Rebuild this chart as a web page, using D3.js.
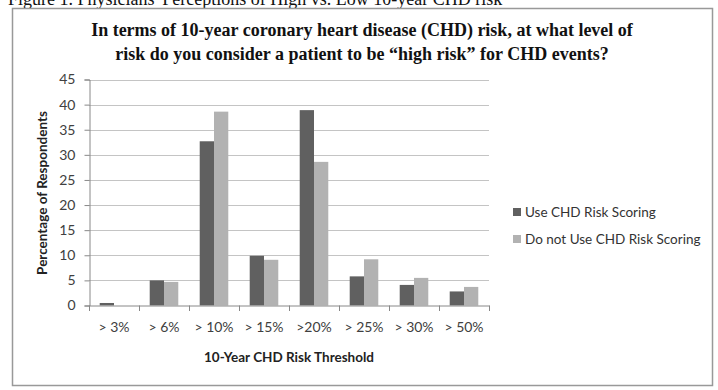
<!DOCTYPE html>
<html>
<head>
<meta charset="utf-8">
<script src="https://cdn.jsdelivr.net/npm/d3@7"></script>
<style>
  body { margin: 0; background: #fff; }
  svg { display: block; }
</style>
</head>
<body>
<svg id="chart" width="718" height="390"></svg>
<script>
var categories = ["> 3%", "> 6%", "> 10%", "> 15%", ">20%", "> 25%", "> 30%", "> 50%"];
var useScoring = [0.5, 5.0, 32.7, 9.9, 38.9, 5.8, 4.1, 2.8];
var noScoring = [0, 4.7, 38.6, 9.1, 28.6, 9.2, 5.5, 3.7];
var seriesNames = ["Use CHD Risk Scoring", "Do not Use CHD Risk Scoring"];
var seriesColors = ["#606060", "#b2b2b2"];
var yTicks = [0, 5, 10, 15, 20, 25, 30, 35, 40, 45];

var svg = d3.select("#chart");
var sans = "Lato, 'Open Sans', sans-serif";

// caption above the frame (cut at top, as in the source)
svg.append("text").attr("x", 8).attr("y", 5)
    .attr("font-family", "'Liberation Serif', serif").attr("font-size", 18)
    .attr("fill", "#111")
    .text("Figure 1. Physicians' Perceptions of High vs. Low 10-year CHD risk");

// frame
svg.append("rect").attr("x", 12.5).attr("y", 8.5).attr("width", 700).attr("height", 377)
    .attr("fill", "#fff").attr("stroke", "#999").attr("stroke-width", 1.5);

// title
var title = svg.append("text").attr("text-anchor", "middle")
    .attr("font-family", "'Liberation Serif', serif").attr("font-weight", "bold")
    .attr("font-size", 18).attr("fill", "#111");
title.append("tspan").attr("x", 362).attr("y", 36)
    .text("In terms of 10-year coronary heart disease (CHD) risk, at what level of");
title.append("tspan").attr("x", 362).attr("y", 60)
    .text("risk do you consider a patient to be \u201chigh risk\u201d for CHD events?");

var x = d3.scaleBand().domain(categories).range([89, 489]).paddingInner(0).paddingOuter(0);
var inner = d3.scaleBand().domain([0, 1]).range([0, x.bandwidth()]).paddingOuter(0.75).paddingInner(0);
var y = d3.scaleLinear().domain([0, 45]).range([305.5, 79.5]);

// gridlines
svg.append("g").selectAll("line").data(yTicks.slice(1)).enter().append("line")
    .attr("x1", 89).attr("x2", 489)
    .attr("y1", d => Math.round(y(d)) + 0.5).attr("y2", d => Math.round(y(d)) + 0.5)
    .attr("stroke", "#c4c4c4").attr("stroke-width", 1);

// bars
var groups = svg.append("g").selectAll("g").data(categories).enter().append("g")
    .attr("transform", d => "translate(" + x(d) + ",0)");
groups.selectAll("rect")
    .data((d, i) => [useScoring[i], noScoring[i]])
    .enter().append("rect")
    .attr("x", (d, i) => inner(i)).attr("width", inner.bandwidth())
    .attr("y", d => y(d)).attr("height", d => y(0) - y(d))
    .attr("fill", (d, i) => seriesColors[i]);

// y axis
var yAxis = svg.append("g").attr("transform", "translate(89.5,0)")
    .call(d3.axisLeft(y).tickValues(yTicks).tickSize(5).tickPadding(9));
yAxis.select(".domain").attr("stroke", "#888");
yAxis.selectAll(".tick line").attr("stroke", "#888");
yAxis.selectAll("text").attr("font-family", sans).attr("font-size", 14).attr("fill", "#404040");

// x axis
var xAxis = svg.append("g").attr("transform", "translate(0,305.5)")
    .call(d3.axisBottom(x).tickSize(0).tickPadding(17));
xAxis.select(".domain").attr("stroke", "#888");
xAxis.selectAll("text").attr("font-family", sans).attr("font-size", 14).attr("fill", "#404040");
svg.append("g").selectAll("line").data(d3.range(categories.length + 1)).enter().append("line")
    .attr("x1", d => 89.5 + d * x.bandwidth()).attr("x2", d => 89.5 + d * x.bandwidth())
    .attr("y1", 305.5).attr("y2", 311).attr("stroke", "#888");

// axis titles
svg.append("text").attr("x", 289).attr("y", 362).attr("text-anchor", "middle")
    .attr("font-family", sans).attr("font-weight", "bold").attr("font-size", 13.5)
    .attr("fill", "#222").text("10-Year CHD Risk Threshold");
svg.append("text").attr("transform", "translate(47,193) rotate(-90)").attr("text-anchor", "middle")
    .attr("font-family", sans).attr("font-weight", "bold").attr("font-size", 13.5)
    .attr("fill", "#222").text("Percentage of Respondents");

// legend
var legend = svg.append("g").selectAll("g").data(seriesNames).enter().append("g")
    .attr("transform", (d, i) => "translate(513," + (212 + i * 27) + ")");
legend.append("rect").attr("x", 0).attr("y", -4).attr("width", 8).attr("height", 8)
    .attr("fill", (d, i) => seriesColors[i]);
legend.append("text").attr("x", 12).attr("y", 5)
    .attr("font-family", sans).attr("font-size", 13.5).attr("fill", "#333").text(d => d);
</script>
</body>
</html>
